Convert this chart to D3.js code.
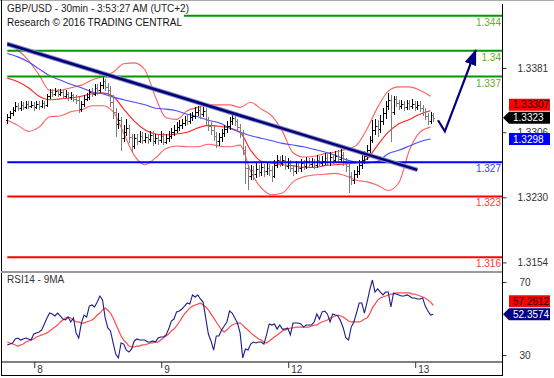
<!DOCTYPE html>
<html>
<head>
<meta charset="utf-8">
<script src="https://cdn.jsdelivr.net/npm/d3@7"></script>
<style>
    body { margin: 0; background: #fff; }
    svg { display: block; font-family: "Liberation Sans", Arial, sans-serif; }
</style>
</head>
<body>
<div id="chart"></div>
<script>
// GBP/USD 30min bars, index 0 = first visible bar
const firstOpen = 1.3320;
const closes = [
    1.3324,1.3328,1.3332,1.3337,1.3334,1.3338,1.3335,1.3339,1.3337,1.3338,
    1.3335,1.3339,1.3337,1.3340,1.3338,1.3348,1.3353,1.3351,1.3354,1.3351,
    1.3353,1.3348,1.3351,1.3347,1.3349,1.3345,1.3344,1.3333,1.3339,1.3345,
    1.3347,1.3353,1.3351,1.3358,1.3355,1.3361,1.3366,1.3359,1.3355,1.3341,
    1.3330,1.3316,1.3320,1.3299,1.3306,1.3311,1.3300,1.3290,1.3299,1.3296,
    1.3302,1.3297,1.3300,1.3298,1.3303,1.3296,1.3299,1.3297,1.3302,1.3295,
    1.3299,1.3302,1.3306,1.3309,1.3312,1.3314,1.3317,1.3320,1.3319,1.3324,
    1.3325,1.3330,1.3332,1.3327,1.3331,1.3320,1.3313,1.3309,1.3302,1.3296,
    1.3300,1.3305,1.3310,1.3313,1.3319,1.3323,1.3319,1.3312,1.3305,1.3285,
    1.3264,1.3255,1.3262,1.3257,1.3263,1.3260,1.3265,1.3261,1.3264,1.3262,
    1.3255,1.3268,1.3274,1.3270,1.3274,1.3267,1.3270,1.3264,1.3261,1.3267,
    1.3264,1.3270,1.3267,1.3272,1.3269,1.3271,1.3268,1.3274,1.3270,1.3272,
    1.3276,1.3271,1.3277,1.3274,1.3278,1.3275,1.3279,1.3272,1.3267,1.3255,
    1.3250,1.3257,1.3261,1.3268,1.3274,1.3278,1.3285,1.3297,1.3309,1.3313,
    1.3310,1.3319,1.3328,1.3337,1.3344,1.3330,1.3345,1.3340,1.3337,1.3339,
    1.3335,1.3340,1.3337,1.3339,1.3335,1.3338,1.3334,1.3330,1.3325,1.3319,
    1.3326,1.3323
];
const highs = [
    1.3327,1.3331,1.3335,1.3341,1.3340,1.3342,1.3341,1.3343,1.3342,1.3342,
    1.3341,1.3343,1.3342,1.3344,1.3343,1.3351,1.3357,1.3356,1.3358,1.3357,
    1.3357,1.3355,1.3355,1.3353,1.3353,1.3351,1.3349,1.3347,1.3343,1.3349,
    1.3352,1.3357,1.3358,1.3362,1.3362,1.3365,1.3370,1.3368,1.3363,1.3360,
    1.3349,1.3334,1.3328,1.3324,1.3315,1.3322,1.3314,1.3304,1.3304,1.3304,
    1.3307,1.3306,1.3305,1.3304,1.3308,1.3307,1.3304,1.3303,1.3307,1.3305,
    1.3304,1.3307,1.3311,1.3314,1.3318,1.3320,1.3322,1.3325,1.3326,1.3329,
    1.3330,1.3335,1.3337,1.3336,1.3336,1.3334,1.3324,1.3318,1.3313,1.3306,
    1.3305,1.3310,1.3315,1.3319,1.3324,1.3328,1.3326,1.3322,1.3316,1.3309,
    1.3290,1.3268,1.3268,1.3266,1.3270,1.3268,1.3271,1.3269,1.3270,1.3269,
    1.3266,1.3273,1.3279,1.3278,1.3279,1.3278,1.3276,1.3274,1.3268,1.3272,
    1.3271,1.3275,1.3274,1.3277,1.3276,1.3276,1.3275,1.3279,1.3278,1.3278,
    1.3282,1.3280,1.3283,1.3281,1.3284,1.3285,1.3286,1.3283,1.3276,1.3270,
    1.3260,1.3262,1.3266,1.3273,1.3280,1.3284,1.3291,1.3302,1.3320,1.3322,
    1.3320,1.3326,1.3334,1.3343,1.3352,1.3350,1.3348,1.3348,1.3344,1.3344,
    1.3343,1.3344,1.3344,1.3345,1.3343,1.3343,1.3342,1.3338,1.3334,1.3329,
    1.3330,1.3329
];
const lows = [
    1.3316,1.3321,1.3325,1.3330,1.3331,1.3331,1.3332,1.3333,1.3333,1.3334,
    1.3331,1.3333,1.3332,1.3334,1.3333,1.3335,1.3345,1.3347,1.3348,1.3347,
    1.3348,1.3345,1.3346,1.3343,1.3344,1.3341,1.3339,1.3328,1.3330,1.3336,
    1.3342,1.3344,1.3347,1.3348,1.3350,1.3352,1.3357,1.3354,1.3349,1.3336,
    1.3322,1.3300,1.3310,1.3284,1.3295,1.3302,1.3294,1.3283,1.3287,1.3291,
    1.3293,1.3292,1.3293,1.3292,1.3295,1.3290,1.3292,1.3291,1.3294,1.3291,
    1.3292,1.3295,1.3298,1.3302,1.3305,1.3308,1.3310,1.3313,1.3314,1.3316,
    1.3319,1.3321,1.3325,1.3322,1.3324,1.3315,1.3308,1.3303,1.3296,1.3288,
    1.3290,1.3295,1.3300,1.3305,1.3309,1.3314,1.3313,1.3306,1.3299,1.3279,
    1.3245,1.3238,1.3250,1.3250,1.3252,1.3254,1.3255,1.3254,1.3256,1.3255,
    1.3248,1.3252,1.3264,1.3265,1.3266,1.3262,1.3263,1.3259,1.3255,1.3257,
    1.3259,1.3260,1.3262,1.3263,1.3264,1.3265,1.3263,1.3264,1.3265,1.3266,
    1.3268,1.3266,1.3267,1.3269,1.3270,1.3270,1.3271,1.3266,1.3260,1.3235,
    1.3244,1.3245,1.3252,1.3256,1.3263,1.3269,1.3273,1.3281,1.3293,1.3303,
    1.3300,1.3305,1.3314,1.3322,1.3332,1.3295,1.3326,1.3335,1.3332,1.3333,
    1.3331,1.3332,1.3332,1.3333,1.3331,1.3332,1.3330,1.3325,1.3320,1.3314,
    1.3316,1.3318
];

// Bollinger bands and moving average, read every 4th bar
const bandStep = 4;
const bbUpper = [
    1.3411,1.3402,1.3390,1.3373,1.3355,1.3355,1.3358,1.3361,1.3367,1.3371,
    1.3376,1.3386,1.3387,1.3379,1.3347,1.3323,1.3321,1.3331,1.3335,1.3338,
    1.3338,1.3338,1.3335,1.3341,1.3333,1.3325,1.3307,1.3282,1.3277,1.3278,
    1.3281,1.3283,1.3286,1.3291,1.3310,1.3335,1.3354,1.3359,1.3359,1.3355,
    1.3348
];
const bbMiddle = [
    1.3369,1.3365,1.3358,1.3348,1.3344,1.3345,1.3346,1.3348,1.3351,1.3352,
    1.3348,1.3333,1.3319,1.3309,1.3304,1.3303,1.3304,1.3306,1.3311,1.3314,
    1.3313,1.3311,1.3306,1.3285,1.3272,1.3270,1.3268,1.3267,1.3265,1.3265,
    1.3267,1.3268,1.3269,1.3270,1.3275,1.3291,1.3306,1.3316,1.3321,1.3327,
    1.3331
];
const bbLower = [
    1.3320,1.3314,1.3307,1.3312,1.3324,1.3325,1.3330,1.3332,1.3337,1.3337,
    1.3330,1.3305,1.3279,1.3268,1.3276,1.3287,1.3290,1.3289,1.3289,1.3292,
    1.3290,1.3289,1.3291,1.3260,1.3241,1.3233,1.3235,1.3248,1.3254,1.3256,
    1.3257,1.3258,1.3255,1.3250,1.3248,1.3244,1.3238,1.3247,1.3285,1.3306,
    1.3312
];
const movingAvg = [
    1.3398,1.3394,1.3388,1.3380,1.3372,1.3367,1.3362,1.3358,1.3353,1.3351,
    1.3347,1.3344,1.3341,1.3338,1.3334,1.3333,1.3331,1.3327,1.3324,1.3320,
    1.3317,1.3311,1.3306,1.3302,1.3299,1.3296,1.3293,1.3291,1.3289,1.3286,
    1.3283,1.3279,1.3274,1.3271,1.3270,1.3272,1.3281,1.3285,1.3290,1.3295,
    1.3298
];

// RSI(14) and its 9 period average
const rsi = [
    35.5,36.0,36.6,38.8,39.3,38.2,38.8,39.3,38.8,38.2,
    41.5,42.1,42.6,43.7,47.0,50.3,53.0,52.5,51.4,53.0,
    51.4,49.7,49.2,50.8,48.1,50.3,42.1,39.3,47.5,51.9,
    50.8,56.8,57.4,56.3,59.0,62.3,60.1,50.3,44.8,43.2,
    36.6,30.5,28.4,36.6,36.0,32.7,31.6,33.3,37.7,38.8,
    38.2,38.2,38.2,37.1,37.1,37.7,37.1,39.3,39.9,39.9,
    41.0,44.2,48.6,49.7,53.6,54.1,55.2,56.8,58.5,57.9,
    62.9,61.8,62.9,60.7,59.0,50.3,41.5,37.7,32.7,40.4,
    40.4,43.7,45.9,48.1,54.1,53.0,50.3,47.5,42.1,28.4,
    33.3,32.7,36.0,37.1,36.6,37.1,37.1,36.0,41.0,47.0,
    46.4,47.0,44.2,46.4,44.2,44.2,44.8,41.0,47.5,47.5,
    47.5,47.0,45.3,46.4,46.4,46.4,48.1,52.5,49.7,53.6,
    54.1,52.5,48.1,52.5,51.9,51.4,48.6,44.8,39.3,38.2,
    45.3,48.1,53.0,58.5,58.5,53.0,59.0,65.6,71.1,64.5,
    66.2,64.5,62.9,64.5,64.5,56.3,64.0,63.4,62.9,62.3,
    62.3,62.9,62.3,61.2,61.2,60.7,60.7,61.2,56.8,54.1,
    51.9,52.36
];
const rsiMa = [
    37.1,36.6,36.0,35.5,34.9,35.5,36.0,37.1,37.7,38.2,
    38.8,39.9,40.4,41.0,41.5,42.1,43.2,44.2,45.3,46.4,
    48.1,49.2,50.3,50.8,50.3,49.2,48.1,48.1,47.5,47.5,
    48.1,48.6,49.2,50.3,51.9,53.0,54.7,55.8,54.7,53.0,
    50.3,47.0,43.7,40.4,38.2,36.6,34.9,34.4,34.4,34.9,
    34.9,35.5,35.5,36.0,36.6,36.6,37.1,37.1,38.2,39.3,
    40.4,41.5,43.2,44.2,45.9,48.1,50.3,52.5,54.1,55.8,
    56.8,57.4,57.9,58.5,57.4,56.3,54.7,52.5,50.3,48.1,
    45.9,43.7,42.6,43.7,45.3,46.4,47.0,47.5,47.5,46.4,
    44.8,43.7,42.1,41.0,39.9,38.8,38.2,37.1,36.6,37.7,
    38.8,39.9,41.0,42.1,43.2,43.7,44.2,44.8,44.8,45.3,
    45.3,45.3,45.3,45.3,45.3,45.9,46.4,46.4,47.5,48.1,
    48.6,49.2,50.3,50.8,51.4,51.9,51.4,50.8,49.7,48.6,
    48.1,48.1,48.1,48.1,48.6,49.7,50.3,52.5,55.8,57.9,
    60.1,61.2,61.8,62.3,62.9,63.4,63.4,64.0,64.0,64.0,
    64.0,64.0,64.0,63.4,63.4,62.9,62.3,61.8,61.2,60.1,
    59.0,57.26
];

// key levels drawn by the analyst
const levelValues = [1.3442, 1.3401, 1.3371, 1.3271, 1.3231, 1.3160];
const levelLabels = ['1.344', '1.34', '1.337', '1.327', '1.323', '1.316'];
const levelKinds = ['res', 'res', 'res', 'pivot', 'sup', 'sup'];

const trendIdx = [0, 155];
const trendPrice = [1.3409, 1.3262];
const arrowIdx = [162.8, 165.4, 177.1];
const arrowPrice = [1.3320, 1.3307, 1.3402];

const priceTicks = [1.3381, 1.3306, 1.3230, 1.3154];
const rsiTicks = [70, 30];
const dayIdx = [10, 58, 106, 154];
const dayLabels = ['8', '9', '12', '13'];

const title = 'GBP/USD - 30min - 3:53:27 AM (UTC+2)';
const subtitle = 'Research \u00a9 2016 TRADING CENTRAL';

const width = 554;
const height = 378;
const axisX = 502.5;

const x = d3.scaleLinear().domain([0, 187]).range([7.3, 502]);
const y = d3.scaleLinear().domain([1.3154, 1.3381]).range([262.4, 68]);
const yr = d3.scaleLinear().domain([30, 70]).range([355, 282]);
const px = i => Math.round(x(i)) + 0.5;

const kindColor = { res: '#009900', pivot: '#0000ff', sup: '#ff0000' };
const kindText = { res: '#5fae2e', pivot: '#3a3aff', sup: '#ff3535' };

const svg = d3.select('#chart').append('svg')
    .attr('width', width)
    .attr('height', height);

// frame
svg.append('line').attr('x1', 0).attr('x2', width).attr('y1', 0.5).attr('y2', 0.5)
    .attr('stroke', '#aaa');
svg.append('line').attr('x1', 1.5).attr('x2', 1.5).attr('y1', 0).attr('y2', 376)
    .attr('stroke', '#000');
svg.append('line').attr('x1', 1).attr('x2', axisX).attr('y1', 375.5).attr('y2', 375.5)
    .attr('stroke', '#000');
svg.append('line').attr('x1', 1).attr('x2', axisX).attr('y1', 272).attr('y2', 272)
    .attr('stroke', '#999').attr('stroke-width', 2);
svg.append('line').attr('x1', 2).attr('x2', axisX).attr('y1', 362).attr('y2', 362)
    .attr('stroke', '#555').attr('stroke-width', 1.5);

const bandX = (d, k) => x(k * bandStep);
const bandLine = d3.line().x(bandX).y(d => y(d)).curve(d3.curveMonotoneX);

svg.append('path').datum(bbUpper).attr('d', bandLine)
    .attr('fill', 'none').attr('stroke', '#ff6060').attr('stroke-width', 1.1);
svg.append('path').datum(bbLower).attr('d', bandLine)
    .attr('fill', 'none').attr('stroke', '#ff6060').attr('stroke-width', 1.1);
svg.append('path').datum(bbMiddle).attr('d', bandLine)
    .attr('fill', 'none').attr('stroke', '#ff2020').attr('stroke-width', 1.1);
svg.append('path').datum(movingAvg).attr('d', bandLine)
    .attr('fill', 'none').attr('stroke', '#4a4aff').attr('stroke-width', 1.1);

// OHLC bars
const opens = closes.map((c, i) => i === 0 ? firstOpen : closes[i - 1]);
const bars = svg.append('g')
    .attr('shape-rendering', 'crispEdges')
    .selectAll('g')
    .data(closes)
    .join('g')
    .attr('stroke', (c, i) => c >= opens[i] ? '#000' : '#7d7d7d');

bars.append('line')
    .attr('x1', (c, i) => px(i)).attr('x2', (c, i) => px(i))
    .attr('y1', (c, i) => y(highs[i])).attr('y2', (c, i) => y(lows[i]));
bars.append('line')
    .attr('x1', (c, i) => px(i) - 1.5).attr('x2', (c, i) => px(i))
    .attr('y1', (c, i) => Math.round(y(opens[i])) + 0.5)
    .attr('y2', (c, i) => Math.round(y(opens[i])) + 0.5);
bars.append('line')
    .attr('x1', (c, i) => px(i)).attr('x2', (c, i) => px(i) + 1.5)
    .attr('y1', c => Math.round(y(c)) + 0.5)
    .attr('y2', c => Math.round(y(c)) + 0.5);

// levels
const levels = svg.append('g');
levels.selectAll('line')
    .data(levelValues)
    .join('line')
    .attr('x1', x(0)).attr('x2', axisX)
    .attr('y1', d => y(d)).attr('y2', d => y(d))
    .attr('stroke', (d, i) => kindColor[levelKinds[i]])
    .attr('stroke-width', 2);
levels.selectAll('text')
    .data(levelValues)
    .join('text')
    .attr('x', 501)
    .attr('y', d => y(d) + 10)
    .attr('text-anchor', 'end')
    .attr('font-size', 10)
    .attr('fill', (d, i) => kindText[levelKinds[i]])
    .text((d, i) => levelLabels[i]);

// trend line
const trend = trendIdx.map((t, i) => [x(t), y(trendPrice[i])]);
svg.append('path').attr('d', d3.line()(trend))
    .attr('stroke', '#8a8ac4').attr('stroke-width', 4.5).attr('fill', 'none');
svg.append('path').attr('d', d3.line()(trend))
    .attr('stroke', '#00007a').attr('stroke-width', 2.5).attr('fill', 'none');

// scenario arrow
svg.append('defs').append('marker')
    .attr('id', 'head')
    .attr('viewBox', '0 0 16 12')
    .attr('refX', 15).attr('refY', 6)
    .attr('markerWidth', 16).attr('markerHeight', 12)
    .attr('markerUnits', 'userSpaceOnUse')
    .attr('orient', 'auto')
    .append('path').attr('d', 'M0,0L16,6L0,12z').attr('fill', '#000080');
svg.append('path')
    .attr('d', d3.line()(arrowIdx.map((t, i) => [x(t), y(arrowPrice[i])])))
    .attr('fill', 'none').attr('stroke', '#000080').attr('stroke-width', 2.2)
    .attr('marker-end', 'url(#head)');

// RSI panel
const rsiLine = d3.line().x((d, i) => x(i)).y(d => yr(d));
svg.append('path').datum(rsiMa).attr('d', rsiLine)
    .attr('fill', 'none').attr('stroke', '#ff4a4a').attr('stroke-width', 1.2);
svg.append('path').datum(rsi).attr('d', rsiLine)
    .attr('fill', 'none').attr('stroke', '#1c1c8c').attr('stroke-width', 1.1);

svg.append('text').attr('x', 7).attr('y', 283)
    .attr('font-size', 10).attr('fill', '#333').text('RSI14 - 9MA');

// axes
const priceAxis = svg.append('g')
    .attr('transform', `translate(${axisX},0)`)
    .call(d3.axisRight(y).tickValues(priceTicks).tickSize(4).tickPadding(11)
        .tickFormat(d3.format('.4f')));
const rsiAxis = svg.append('g')
    .attr('transform', `translate(${axisX},0)`)
    .call(d3.axisRight(yr).tickValues(rsiTicks).tickSize(4).tickPadding(13));
const timeAxis = svg.append('g')
    .attr('transform', 'translate(0,362)')
    .call(d3.axisBottom(x).tickValues(dayIdx).tickSize(6)
        .tickFormat((d, i) => dayLabels[i]));
timeAxis.selectAll('text').attr('x', 3).attr('y', 4).attr('text-anchor', 'start');

[priceAxis, rsiAxis, timeAxis].forEach(g => {
    g.select('.domain').remove();
    g.selectAll('text').attr('font-size', 10).attr('fill', '#333')
        .attr('font-family', '"Liberation Sans", Arial, sans-serif');
    g.selectAll('line').attr('stroke', '#333');
});
timeAxis.selectAll('line').attr('transform', 'translate(0.5,0)');

svg.append('line').attr('x1', axisX).attr('x2', axisX).attr('y1', 4).attr('y2', 376)
    .attr('stroke', '#000');

// value tags on the right
function tag(value, cy, fill, textColor, arrow) {
    const g = svg.append('g');
    const top = cy - 6;
    const pts = arrow
        ? [[503, cy], [509, top], [550, top], [550, top + 12], [509, top + 12]]
        : [[509, top], [550, top], [550, top + 12], [509, top + 12]];
    g.append('path').attr('d', d3.line()(pts) + 'Z').attr('fill', fill);
    g.append('text').attr('x', 513).attr('y', cy + 3.6)
        .attr('font-size', 10).attr('fill', textColor).text(value);
}

const lastY = y(closes[closes.length - 1]);
const midY = Math.min(y(1.33307), lastY - 13);
tag('1.33307', midY, '#ff0000', '#200', false);
tag('1.3323', lastY, '#000', '#fff', true);
tag('1.3298', y(movingAvg[movingAvg.length - 1]), '#0000ff', '#fff', false);

const rsiY = yr(52.3574);
tag('57.2612', Math.min(yr(57.2612), rsiY - 13), '#ff0000', '#200', false);
tag('52.3574', rsiY, '#000080', '#fff', true);

// heading
svg.append('rect').attr('x', 2).attr('y', 2).attr('width', 182).attr('height', 26)
    .attr('fill', '#fff');
svg.append('text').attr('x', 7).attr('y', 12)
    .attr('font-size', 10).attr('fill', '#222').text(title);
svg.append('text').attr('x', 7).attr('y', 26)
    .attr('font-size', 10).attr('fill', '#111').text(subtitle);
</script>
</body>
</html>
